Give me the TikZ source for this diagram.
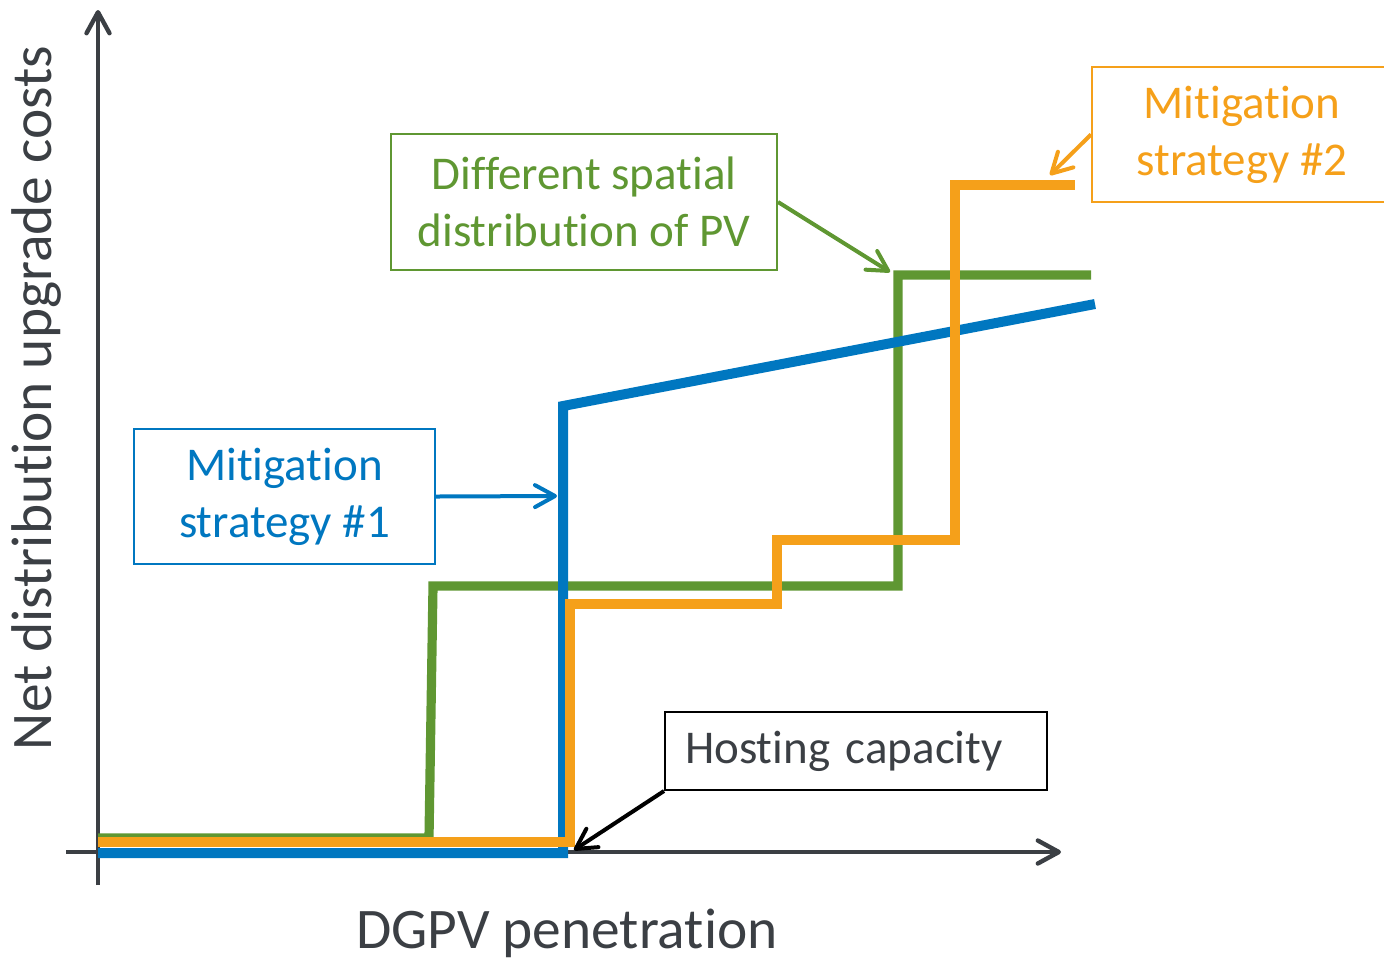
\documentclass[tikz,border=0pt]{standalone}
\usepackage{fontspec}
\setmainfont{Carlito}[RawFeature={-liga;-clig;-calt;-dlig}]
\usetikzlibrary{arrows.meta}
\definecolor{cblue}{RGB}{0,119,192}
\definecolor{cgreen}{RGB}{95,151,50}
\definecolor{corange}{RGB}{245,160,26}
\definecolor{caxis}{RGB}{59,63,68}
\tikzset{
  axisline/.style={draw=caxis,line width=2.2pt,-{Straight Barb[length=10.5pt,width=11.5pt,round]}},
  curve/.style={line width=5pt,line join=miter},
  callout/.style={line width=2pt,-{Straight Barb[length=10pt,width=11pt,round]}},
  boxtext/.style={font=\fontsize{23.5pt}{28.5pt}\selectfont,align=center,line width=1pt,inner sep=0pt},
}
\begin{document}
\begin{tikzpicture}[x=0.5pt,y=-0.5pt]
\useasboundingbox (0,0) rectangle (1384,960);
% axes
\coordinate (yb) at (98,885);
\coordinate (yt) at (98,10);
\coordinate (xl) at (66,852);
\coordinate (xr) at (1061,852);
\draw[axisline] (yb) -- (yt);
\draw[axisline] (xl) -- (xr);
% curves
\draw[curve,cgreen,line width=4.6pt] (98,838) -- (429,838) -- (433,586) -- (898,586) -- (898,275) -- (1091,275);
\draw[curve,cblue] (98,853) -- (563,853) -- (563,406) -- (1095,304);
\draw[curve,corange] (98,842) -- (570,842) -- (570,604) -- (777,604) -- (777,540) -- (955,540) -- (955,185) -- (1075,185);
% boxes
\node[boxtext,draw=cblue,text=cblue,minimum width=301*0.5pt,minimum height=135*0.5pt] (b1) at (284.5,496.5) {Mitigation\\strategy \#1};
\node[boxtext,draw=cgreen,text=cgreen,minimum width=386*0.5pt,minimum height=136*0.5pt] (b2) at (584,202) {Different spatial\\distribution of PV};
\node[boxtext,draw=corange,text=corange,minimum width=300*0.5pt,minimum height=135*0.5pt] (b3) at (1242,134.5) {Mitigation\\strategy \#2};
\node[boxtext,draw=black,text=caxis,minimum height=78*0.5pt,text width=342*0.5pt,align=left,inner xsep=10pt] (b4) at (856,751) {Hosting capacity};
% callout targets
\coordinate (t1) at (557,496);
\coordinate (t2) at (890,272);
\coordinate (t3) at (1050,175);
\coordinate (t4) at (574,850);
\draw[callout,cblue] (b1.east) -- (t1);
\draw[callout,cgreen] (b2.east) -- (t2);
\draw[callout,corange] (b3.west) -- (t3);
\draw[callout,black] (b4.south west) -- (t4);
% axis labels
\node[text=caxis,font=\fontsize{28.7pt}{34pt}\selectfont,rotate=90,inner sep=0pt] (ylab) at (37,398) {Net distribution upgrade costs};
\node[text=caxis,font=\fontsize{28.7pt}{34pt}\selectfont,inner sep=0pt] (xlab) at (567,933) {DGPV penetration};
\end{tikzpicture}
\end{document}
